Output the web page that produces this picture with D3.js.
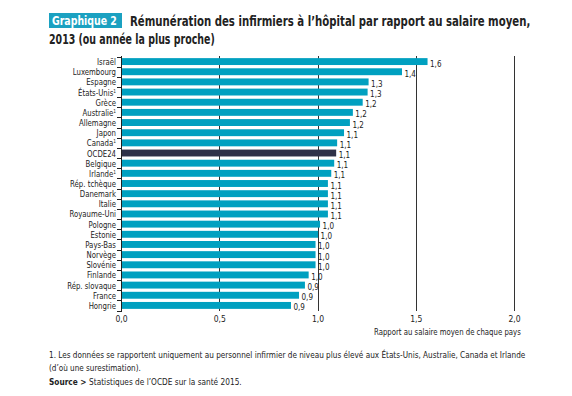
<!DOCTYPE html>
<html>
<head>
<meta charset="utf-8">
<script src="https://cdn.jsdelivr.net/npm/d3@7"></script>
<style>
body { margin: 0; background: #fff; }
svg text { font-family: "DejaVu Sans Condensed", "Liberation Sans", sans-serif; fill: #222; }
</style>
</head>
<body>
<div class="content"></div>
<script>
var width = 572
var height = 396

// data
var countries = ['Israël', 'Luxembourg', 'Espagne', 'États-Unis', 'Grèce', 'Australie', 'Allemagne', 'Japon',
    'Canada', 'OCDE24', 'Belgique', 'Irlande', 'Rép. tchèque', 'Danemark', 'Italie', 'Royaume-Uni',
    'Pologne', 'Estonie', 'Pays-Bas', 'Norvège', 'Slovénie', 'Finlande', 'Rép. slovaque', 'France', 'Hongrie']
var values = [1.56, 1.43, 1.26, 1.255, 1.23, 1.18, 1.165, 1.135,
    1.10, 1.095, 1.085, 1.07, 1.053, 1.053, 1.053, 1.053,
    1.013, 1.003, 0.99, 0.99, 0.99, 0.955, 0.936, 0.906, 0.865]
var footnoted = ['États-Unis', 'Australie', 'Canada', 'Irlande']
var xTicks = [0, 0.5, 1, 1.5, 2]

var data = countries.map(function(c, i) { return { name: c, value: values[i] } })

var fmt = function(v) { return d3.format('.1f')(v).replace('.', ',') }

var margin = { top: 56.5, left: 121, right: 58, bottom: 85.5 }

var x = d3.scaleLinear()
    .domain([0, 2])
    .range([margin.left, width - margin.right])

var y = d3.scaleBand()
    .domain(countries)
    .range([margin.top, height - margin.bottom])
    .paddingInner(0.32)
    .paddingOuter(0.16)

var svg = d3.select('.content').append('svg')
    .attr('width', width)
    .attr('height', height)

// squeezes a line of text horizontally into the width it has in the picture
function fit(sel, len) {
    sel.each(function() {
        var w = this.getComputedTextLength()
        var x0 = +this.getAttribute('x')
        d3.select(this).attr('transform',
            'translate(' + x0 + ',0) scale(' + (len / w) + ',1) translate(' + (-x0) + ',0)')
    })
}

// title
svg.append('rect')
    .attr('x', 49).attr('y', 13)
    .attr('width', 73).attr('height', 15)
    .style('fill', '#1ba1c1')
svg.append('text')
    .attr('x', 52).attr('y', 25)
    .style('font-size', '13px').style('font-weight', 'bold')
    .style('fill', '#fff')
    .text('Graphique 2')
    .call(fit, 65)
svg.append('text')
    .attr('x', 130).attr('y', 26)
    .style('font-size', '13.5px').style('font-weight', 'bold')
    .text('Rémunération des infirmiers à l’hôpital par rapport au salaire moyen,')
    .call(fit, 401)
svg.append('text')
    .attr('x', 49).attr('y', 44)
    .style('font-size', '13.5px').style('font-weight', 'bold')
    .text('2013 (ou année la plus proche)')
    .call(fit, 166)

// vertical grid lines
svg.append('g')
    .selectAll('line')
    .data(xTicks.slice(1))
    .enter().append('line')
    .attr('x1', function(d) { return Math.round(x(d)) + 0.5 })
    .attr('x2', function(d) { return Math.round(x(d)) + 0.5 })
    .attr('y1', 56)
    .attr('y2', 311)
    .style('stroke', '#333')
    .style('stroke-width', 1)

// bars
svg.append('g')
    .selectAll('rect')
    .data(data)
    .enter().append('rect')
    .attr('x', x(0))
    .attr('y', function(d) { return y(d.name) })
    .attr('width', function(d) { return x(d.value) - x(0) })
    .attr('height', y.bandwidth())
    .style('fill', function(d) { return d.name === 'OCDE24' ? '#2e3148' : '#00a0c0' })

// value labels
svg.append('g')
    .selectAll('text')
    .data(data)
    .enter().append('text')
    .attr('x', function(d) { return x(d.value) + 2.5 })
    .attr('y', function(d) { return y(d.name) + y.bandwidth() / 2 + 5 })
    .style('font-size', '8px')
    .text(function(d) { return fmt(d.value) })

// y axis line + ticks between categories
var step = y.step()
var y0 = y.range()[0]
svg.append('line')
    .attr('x1', x(0) + 0.5).attr('x2', x(0) + 0.5)
    .attr('y1', 56).attr('y2', 312)
    .style('stroke', '#222')
svg.append('g')
    .selectAll('line')
    .data(d3.range(countries.length + 1))
    .enter().append('line')
    .attr('x1', x(0) - 4).attr('x2', x(0))
    .attr('y1', function(i) { return Math.round(y0 + i * step) + 0.5 })
    .attr('y2', function(i) { return Math.round(y0 + i * step) + 0.5 })
    .style('stroke', '#222')

// category labels (squeezed like the condensed face of the original)
var cat = svg.append('g')
    .attr('transform', 'translate(116,0) scale(0.86,1)')
    .selectAll('text')
    .data(data)
    .enter().append('text')
    .attr('x', 0)
    .attr('y', function(d) { return y(d.name) + y.bandwidth() / 2 + 3.5 })
    .attr('text-anchor', 'end')
    .style('font-size', '9px')
cat.append('tspan').text(function(d) { return d.name })
cat.filter(function(d) { return footnoted.indexOf(d.name) >= 0 })
    .append('tspan')
    .attr('dy', -3)
    .style('font-size', '5.5px')
    .text('1')

// x axis labels
svg.append('g')
    .attr('transform', 'translate(0,' + 311 + ')')
    .call(d3.axisBottom(x).tickValues(xTicks).tickSize(0).tickPadding(5).tickFormat(fmt))
    .call(function(g) { g.select('.domain').remove() })
    .selectAll('text')
    .style('font-size', '8.5px')
    .style('font-family', null)

svg.append('text')
    .attr('x', 374).attr('y', 335)
    .style('font-size', '9px')
    .text('Rapport au salaire moyen de chaque pays')
    .call(fit, 147)

// notes
svg.append('text')
    .attr('x', 49).attr('y', 358)
    .style('font-size', '9.5px')
    .text('1. Les données se rapportent uniquement au personnel infirmier de niveau plus élevé aux États-Unis, Australie, Canada et Irlande')
    .call(fit, 477)
svg.append('text')
    .attr('x', 49).attr('y', 371)
    .style('font-size', '9.5px')
    .text('(d’où une surestimation).')
    .call(fit, 92)
var src = svg.append('text')
    .attr('x', 49).attr('y', 385)
    .style('font-size', '9.5px')
src.append('tspan').style('font-weight', 'bold').text('Source > ')
src.append('tspan').text('Statistiques de l’OCDE sur la santé 2015.')
src.call(fit, 193)
</script>
</body>
</html>
